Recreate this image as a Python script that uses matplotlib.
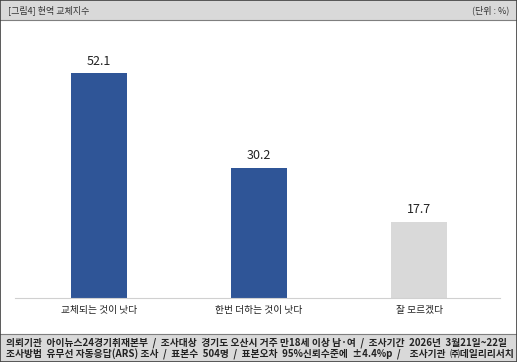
import matplotlib.pyplot as plt
from matplotlib.patches import Rectangle

plt.rcParams['font.family'] = ['Noto Sans CJK KR', 'DejaVu Sans']

categories = ['교체되는 것이 낫다', '한번 더하는 것이 낫다', '잘 모르겠다']
values = [52.1, 30.2, 17.7]
colors = ['#2f5597', '#2f5597', '#d9d9d9']

W, H = 517, 362
fig = plt.figure(figsize=(W / 100, H / 100), dpi=100)

# header and footer bands
fig.patches.append(Rectangle((0, 1 - 20 / H), 1, 20 / H, transform=fig.transFigure,
                             facecolor='#d9d9d9', edgecolor='none', zorder=0))
fig.patches.append(Rectangle((0, 0), 1, 28 / H, transform=fig.transFigure,
                             facecolor='#d9d9d9', edgecolor='none', zorder=0))
fig.add_artist(plt.Line2D([0, 1], [1 - 20 / H, 1 - 20 / H], color='#7f7f7f', lw=0.8))
fig.add_artist(plt.Line2D([0, 1], [28 / H, 28 / H], color='#7f7f7f', lw=0.8))
fig.patches.append(Rectangle((0, 0), 1, 1, transform=fig.transFigure, facecolor='none',
                             edgecolor='#404040', lw=1.2, zorder=5))

fig.text(8 / W, 1 - 10 / H, '[그림4] 현역 교체지수', fontsize=6.5, color='#333333', va='center')
fig.text(1 - 8 / W, 1 - 10 / H, '(단위 : %)', fontsize=6.5, color='#333333', va='center', ha='right')

fig.text(6 / W, 19 / H, '의뢰기관  아이뉴스24경기취재본부  /  조사대상  경기도 오산시 거주 만18세 이상 남·여  /  조사기간  2026년  3월21일~22일',
         fontsize=7, color='#222222', va='center', fontweight='bold')
fig.text(6 / W, 7.5 / H, '조사방법  유무선 자동응답(ARS) 조사  /  표본수  504명  /  표본오차  95%신뢰수준에  ±4.4%p  /    조사기관  ㈜데일리리서치',
         fontsize=7, color='#222222', va='center', fontweight='bold')

ax = fig.add_axes([15 / W, 1 - 298 / H, 485 / W, 259.2 / H])
x = range(len(categories))
bars = ax.bar(x, values, width=0.35, color=colors)
for xi, v in zip(x, values):
    ax.text(xi, v + 1.2, f'{v:.1f}', ha='center', va='bottom', fontsize=9, color='#222222')

ax.set_xlim(-0.525, 2.505)
ax.set_ylim(0, 60)
ax.set_xticks(list(x))
ax.set_xticklabels(categories, fontsize=7, color='#222222')
ax.tick_params(axis='x', length=0, pad=5)
ax.set_yticks([])
for s in ['top', 'left', 'right']:
    ax.spines[s].set_visible(False)
ax.spines['bottom'].set_color('#d0d0d0')
ax.spines['bottom'].set_linewidth(0.8)

fig.savefig('out.png', dpi=100)
